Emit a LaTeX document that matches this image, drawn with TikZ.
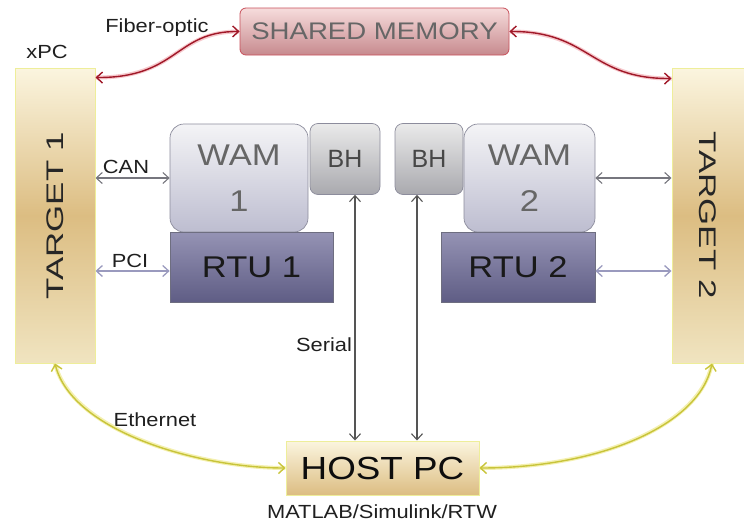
\documentclass[tikz,border=0pt]{standalone}
\usepackage{graphicx}
\usepackage{fontspec}
\setmainfont{Liberation Sans}
\usetikzlibrary{arrows.meta}
\newcommand\sxt[1]{\scalebox{1.15}[1]{#1}}
\definecolor{tgtTop}{HTML}{FBF5DF}
\definecolor{tgtMid}{HTML}{DCBD82}
\definecolor{tgtBot}{HTML}{F0E4C0}
\definecolor{tgtBorder}{HTML}{EEEE9A}
\definecolor{memTop}{HTML}{F6DCDC}
\definecolor{memBot}{HTML}{C78A8E}
\definecolor{memBorder}{HTML}{C8505A}
\definecolor{wamTop}{HTML}{F4F4F6}
\definecolor{wamBot}{HTML}{BDBDD0}
\definecolor{wamBorder}{HTML}{8C8C9C}
\definecolor{bhTop}{HTML}{EAEAEA}
\definecolor{bhBot}{HTML}{A9A9AE}
\definecolor{rtuTop}{HTML}{9593B4}
\definecolor{rtuBot}{HTML}{5F5D85}
\definecolor{rtuBorder}{HTML}{6E6E80}
\definecolor{fiberCol}{HTML}{A01828}
\definecolor{fiberGlow}{HTML}{F6C8CC}
\definecolor{ethCol}{HTML}{C8C43A}
\definecolor{ethGlow}{HTML}{F4F0B0}
\definecolor{wamLink}{HTML}{76767E}
\definecolor{rtuLink}{HTML}{9A9ABE}
\definecolor{serialCol}{HTML}{555555}
\begin{document}
\begin{tikzpicture}[x=1pt,y=-1pt,
  box/.style={draw, inner sep=0pt, align=center},
  target/.style={box, draw=tgtBorder, line width=1pt, top color=tgtTop, bottom color=tgtBot, middle color=tgtMid, text=black!85, font=\fontsize{24}{28}\selectfont},
  hostbox/.style={box, draw=tgtBorder, line width=1pt, top color=tgtTop, bottom color=tgtMid, text=black!95, font=\fontsize{32}{36}\selectfont},
  membox/.style={box, draw=memBorder, line width=0.8pt, rounded corners=6pt, top color=memTop, bottom color=memBot, text=black!60, font=\fontsize{24}{28}\selectfont},
  wambox/.style={box, draw=wamBorder, line width=0.7pt, rounded corners=14pt, top color=wamTop, bottom color=wamBot, text=black!60, font=\fontsize{30}{46}\selectfont},
  bhbox/.style={box, draw=wamBorder, line width=0.7pt, rounded corners=8pt, top color=bhTop, bottom color=bhBot, text=black!72, font=\fontsize{25}{28}\selectfont},
  rtubox/.style={box, draw=rtuBorder, line width=0.7pt, top color=rtuTop, bottom color=rtuBot, text=black!90, font=\fontsize{30}{34}\selectfont},
  lbl/.style={inner sep=0pt, text=black!88, font=\fontsize{19}{22}\selectfont},
  tip/.style={<->, >={Straight Barb[length=6pt,width=11pt]}},
  wlink/.style={draw=wamLink, line width=1.1pt, tip},
  rlink/.style={draw=rtuLink, line width=1.3pt, tip},
  serial/.style={draw=serialCol, line width=1.1pt, tip},
  fiber/.style={draw=fiberCol, line width=1.4pt, tip, preaction={draw=fiberGlow, line width=4pt, -}},
  eth/.style={draw=ethCol, line width=1.4pt, tip, preaction={draw=ethGlow, line width=4pt, -}}
]
\useasboundingbox (0,0) rectangle (744,525);

% boxes
\node[target, minimum width=80pt, minimum height=295pt] (t1) at (55,215.5) {\rotatebox{90}{\scalebox{1.45}[1]{TARGET 1}}};
\node[target, minimum width=72pt, minimum height=295pt] (t2) at (708,215.5) {\rotatebox{-90}{\scalebox{1.45}[1]{TARGET 2}}};
\node[membox, minimum width=269pt, minimum height=47pt] (mem) at (374.5,31.5) {\sxt{SHARED MEMORY}};
\node[wambox, minimum width=138pt, minimum height=108pt] (wam1) at (239,178) {\sxt{WAM}\\\sxt{1}};
\node[wambox, minimum width=131pt, minimum height=108pt] (wam2) at (529.5,178) {\sxt{WAM}\\\sxt{2}};
\node[bhbox, minimum width=70pt, minimum height=71pt] (bh1) at (345,159) {BH};
\node[bhbox, minimum width=68pt, minimum height=71pt] (bh2) at (429,159) {BH};
\node[rtubox, minimum width=163pt, minimum height=70pt] (rtu1) at (251.5,267) {\sxt{RTU 1}};
\node[rtubox, minimum width=154pt, minimum height=70pt] (rtu2) at (518,267) {\sxt{RTU 2}};
\node[hostbox, minimum width=193pt, minimum height=54pt] (host) at (382.5,468) {\sxt{HOST PC}};

% labels
\node[lbl] (xpc) at (47,52) {\sxt{xPC}};
\node[lbl] (fibl) at (157,28) {\sxt{Fiber-optic}};
\node[lbl] (canl) at (126,167) {\sxt{CAN}};
\node[lbl] (pcil) at (130,261) {\sxt{PCI}};
\node[lbl] (serl) at (324,345) {\sxt{Serial}};
\node[lbl] (ethl) at (155,420) {\sxt{Ethernet}};
\node[lbl] (matl) at (382,512) {\sxt{MATLAB/Simulink/RTW}};

% fiber-optic links
\draw[fiber] (mem.west) .. controls (175,31) and (178,78) .. ([yshift=-10pt]t1.north east);
\draw[fiber] (mem.east) .. controls (590,31) and (590,79) .. ([yshift=-11pt]t2.north west);

% CAN / PCI links
\draw[wlink] (t1.east |- wam1.west) -- (wam1.west);
\draw[rlink] ([yshift=-4pt]t1.east |- rtu1.west) -- ([yshift=-4pt]rtu1.west);
\draw[wlink] (wam2.east) -- (t2.west |- wam2.east);
\draw[rlink] ([yshift=-4pt]rtu2.east) -- ([yshift=-4pt]t2.west |- rtu2.east);

% serial links
\draw[serial] ([xshift=10pt]bh1.south) -- ([xshift=10pt]bh1.south |- host.north);
\draw[serial] ([xshift=-12pt]bh2.south) -- ([xshift=-12pt]bh2.south |- host.north);

% ethernet links
\draw[eth] (t1.south) .. controls (72,432) and (200,468) .. (host.west);
\draw[eth] (host.east) .. controls (600,468) and (700,425) .. ([xshift=4pt]t2.south);
\end{tikzpicture}
\end{document}
